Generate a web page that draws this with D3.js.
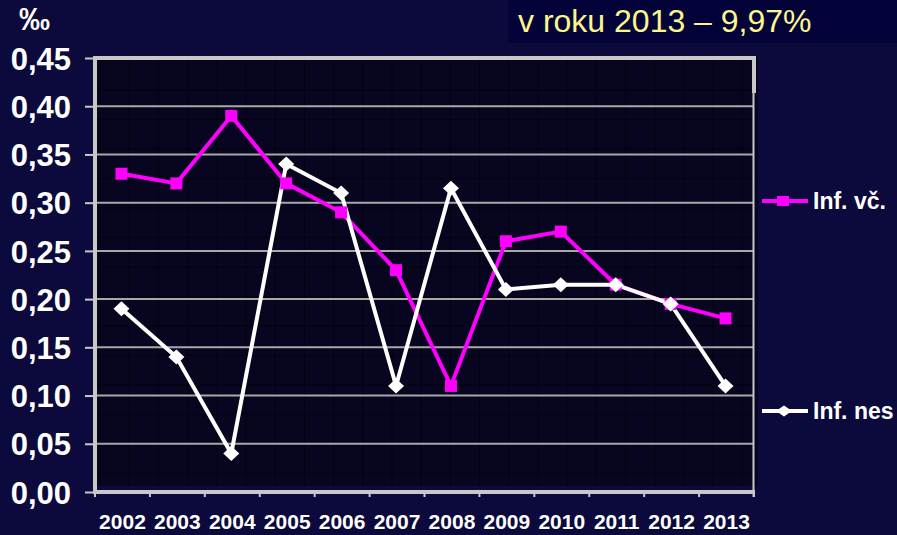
<!DOCTYPE html>
<html>
<head>
<meta charset="utf-8">
<script src="https://cdn.jsdelivr.net/npm/d3@7"></script>
<style>
  html, body { margin: 0; padding: 0; background: #0c0a3c; }
  svg { display: block; }
  text { font-family: Arial, "Liberation Sans", sans-serif; }
</style>
</head>
<body>
<script>
const years = ["2002","2003","2004","2005","2006","2007","2008","2009","2010","2011","2012","2013"];
const infVc  = [0.33, 0.32, 0.39, 0.32, 0.29, 0.23, 0.11, 0.26, 0.27, 0.215, 0.195, 0.18];
const infNes = [0.19, 0.14, 0.04, 0.34, 0.31, 0.11, 0.315, 0.21, 0.215, 0.215, 0.195, 0.11];
const yTicks = [0, 0.05, 0.10, 0.15, 0.20, 0.25, 0.30, 0.35, 0.40, 0.45];
const seriesNames = ["Inf. vč.", "Inf. nes"];
const titleText = "v roku 2013 – 9,97%";
const unitText = "‰";

const W = 897, H = 535;
const svg = d3.select("body").append("svg").attr("width", W).attr("height", H);

svg.append("rect").attr("width", W).attr("height", H).attr("fill", "#0c0a3c");

const x = d3.scaleBand().domain(years).range([95, 754]).padding(0);
const y = d3.scaleLinear().domain([0, 0.45]).range([492, 58]);

// plot area background
svg.append("rect").attr("x", 97).attr("y", 58).attr("width", 661).attr("height", 428).attr("fill", "#07051f");

// subtle texture grid
const tex = svg.append("g").attr("stroke", "#000000").attr("stroke-opacity", 0.55).attr("stroke-width", 1);
for (let xx = 100; xx < 758; xx += 29.2) {
  tex.append("line").attr("x1", xx).attr("x2", xx).attr("y1", 60).attr("y2", 486);
}
for (let yy = 90; yy < 486; yy += 29.5) {
  tex.append("line").attr("x1", 98).attr("x2", 758).attr("y1", yy).attr("y2", yy);
}

// horizontal gridlines
svg.append("g").selectAll("line").data(yTicks.filter(d => d > 0 && d < 0.45)).join("line")
  .attr("x1", 95).attr("x2", 754)
  .attr("y1", d => y(d)).attr("y2", d => y(d))
  .attr("stroke", "#a8a8a8").attr("stroke-width", 2);

// frame: top, right
svg.append("line").attr("x1", 93).attr("x2", 756).attr("y1", 58).attr("y2", 58).attr("stroke", "#c8c8c8").attr("stroke-width", 4);
svg.append("line").attr("x1", 754).attr("x2", 754).attr("y1", 56).attr("y2", 93).attr("stroke", "#c8c8c8").attr("stroke-width", 4);
svg.append("line").attr("x1", 753.5).attr("x2", 753.5).attr("y1", 93).attr("y2", 497).attr("stroke", "#c8c8c8").attr("stroke-width", 2);

// y axis
const yAxis = d3.axisLeft(y).tickValues(yTicks).tickSize(10).tickPadding(14)
  .tickFormat(d => d3.format(".2f")(d).replace(".", ","));
const gy = svg.append("g").attr("transform", "translate(95,0)").call(yAxis);
gy.select(".domain").remove();
gy.selectAll(".tick line").attr("stroke", "#c8c8c8").attr("stroke-width", 2);
gy.selectAll(".tick text").attr("fill", "#ffffff").attr("font-size", 31).attr("font-weight", "bold").attr("dy", "0.36em");
svg.append("line").attr("x1", 95).attr("x2", 95).attr("y1", 56).attr("y2", 494).attr("stroke", "#c8c8c8").attr("stroke-width", 4);

// x axis
const xAxis = d3.axisBottom(x).tickSize(0).tickPadding(22);
const gx = svg.append("g").attr("transform", "translate(0,492)").call(xAxis);
gx.select(".domain").remove();
gx.selectAll(".tick text").attr("fill", "#ffffff").attr("font-size", 21).attr("font-weight", "bold");
svg.append("line").attr("x1", 93).attr("x2", 755).attr("y1", 492).attr("y2", 492).attr("stroke", "#c8c8c8").attr("stroke-width", 4);
const bounds = years.map(d => x(d)).concat([x.range()[1]]);
svg.append("g").selectAll("line").data(bounds).join("line")
  .attr("x1", d => d).attr("x2", d => d).attr("y1", 492).attr("y2", 497)
  .attr("stroke", "#c8c8c8").attr("stroke-width", 2);

const cx = d => x(d) + x.bandwidth() / 2 - 1;

const line = d3.line().x(d => cx(d[0])).y(d => y(d[1]));
const dataVc = years.map((yr, i) => [yr, infVc[i]]);
const dataNes = years.map((yr, i) => [yr, infNes[i]]);

svg.append("path").datum(dataVc).attr("d", line).attr("fill", "none").attr("stroke", "#ff00ff").attr("stroke-width", 4);
svg.append("path").datum(dataNes).attr("d", line).attr("fill", "none").attr("stroke", "#ffffff").attr("stroke-width", 4);

svg.append("g").selectAll("rect").data(dataVc).join("rect")
  .attr("x", d => cx(d[0]) - 6).attr("y", d => y(d[1]) - 6).attr("width", 12).attr("height", 12).attr("fill", "#ff00ff");

const diamondPath = (w, h) => `M0,${-h/2}L${w/2},0L0,${h/2}L${-w/2},0Z`;
svg.append("g").selectAll("path").data(dataNes).join("path")
  .attr("d", diamondPath(16, 15))
  .attr("transform", d => `translate(${cx(d[0])},${y(d[1])})`)
  .attr("fill", "#ffffff");

// legend
const leg = [
  { name: seriesNames[0], color: "#ff00ff", yy: 201, shape: "square" },
  { name: seriesNames[1], color: "#ffffff", yy: 411, shape: "diamond" }
];
leg.forEach(l => {
  svg.append("line").attr("x1", 762).attr("x2", 808).attr("y1", l.yy).attr("y2", l.yy).attr("stroke", l.color).attr("stroke-width", 4);
  if (l.shape === "square") {
    svg.append("rect").attr("x", 777).attr("y", l.yy - 5).attr("width", 12).attr("height", 10).attr("fill", l.color);
  } else {
    svg.append("path").attr("d", diamondPath(16, 11)).attr("transform", `translate(784,${l.yy})`).attr("fill", l.color);
  }
  svg.append("text").attr("x", 813).attr("y", l.yy + 8).attr("fill", "#ffffff").attr("font-size", 23).attr("font-weight", "bold").text(l.name);
});

svg.append("text").attr("x", 19).attr("y", 30).attr("fill", "#ffffff").attr("font-size", 31).attr("font-weight", "bold").text(unitText);

svg.append("rect").attr("x", 508).attr("y", 0).attr("width", 389).attr("height", 43).attr("fill", "#03033a");
svg.append("text").attr("x", 518).attr("y", 32).attr("fill", "#fbf68e").attr("font-size", 32).text(titleText);
</script>
</body>
</html>
